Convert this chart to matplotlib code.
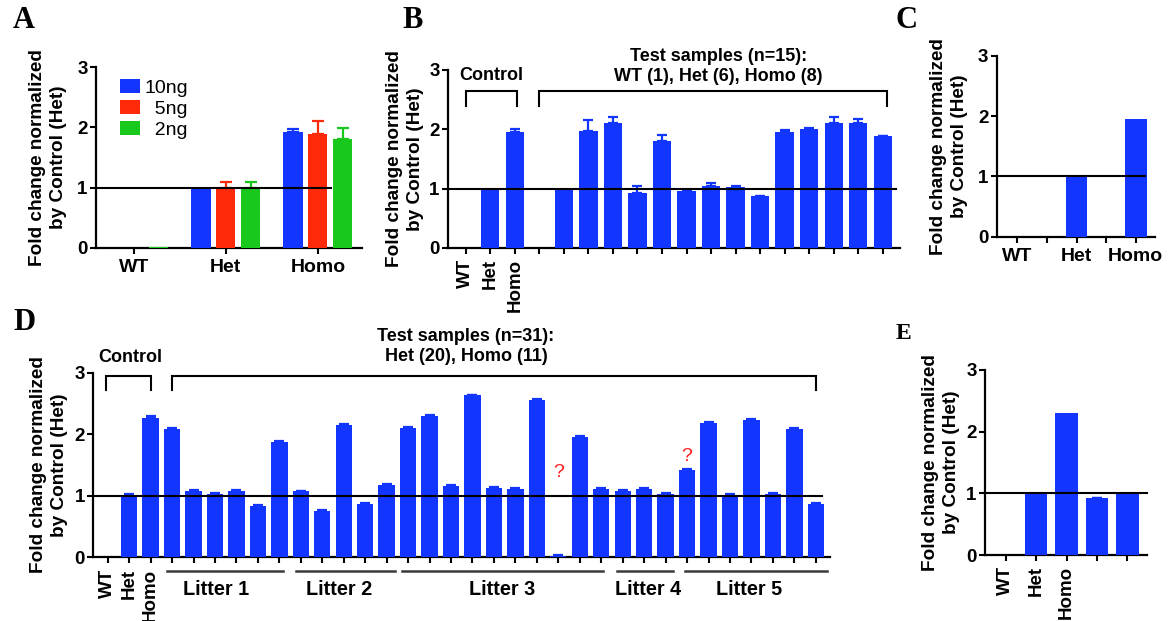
import matplotlib
matplotlib.use('Agg')
import matplotlib.pyplot as plt
import numpy as np

plt.rcParams['font.family'] = ['Liberation Sans', 'DejaVu Sans']
plt.rcParams['font.weight'] = 'bold'

# ---------------- data ----------------
a_groups = ['WT', 'Het', 'Homo']
a_doses = ['10ng', '  5ng', '  2ng']
a_10ng = [0.0, 1.00, 1.92]
a_10ng_err = [0.0, 0.0, 0.05]
a_5ng = [0.0, 1.00, 1.89]
a_5ng_err = [0.0, 0.10, 0.21]
a_2ng = [0.02, 1.00, 1.80]
a_2ng_err = [0.0, 0.10, 0.19]

b_controls = ['WT', 'Het', 'Homo']
b_control_vals = [0.0, 1.00, 1.95]
b_control_err = [0.0, 0.0, 0.05]
b_test_vals = [0.0, 1.00, 1.97, 2.10, 0.93, 1.81, 0.96, 1.04, 1.02, 0.87,
               1.96, 2.00, 2.11, 2.10, 1.88]
b_test_err = [0.0, 0.0, 0.18, 0.10, 0.12, 0.09, 0.01, 0.05, 0.02, 0.01,
              0.03, 0.02, 0.09, 0.08, 0.01]
b_title = 'Test samples (n=15):\nWT (1), Het (6), Homo (8)'

c_groups = ['WT', 'Het', 'Homo']
c_vals = [0.0, 1.00, 1.96]

d_controls = ['WT', 'Het', 'Homo']
d_control_vals = [0.0, 1.01, 2.27]
d_control_err = [0.0, 0.02, 0.02]
d_test_vals = [2.08, 1.08, 1.03, 1.08, 0.83, 1.88,
               1.07, 0.76, 2.15, 0.87, 1.17,
               2.10, 2.30, 1.16, 2.63, 1.13, 1.11, 2.56, 0.02, 1.95, 1.11,
               1.08, 1.11, 1.03,
               1.42, 2.19, 1.02, 2.23, 1.03, 2.08, 0.87]
d_test_err = [0.015] * 31
d_litters = ['Litter 1', 'Litter 2', 'Litter 3', 'Litter 4', 'Litter 5']
d_litter_sizes = [6, 5, 10, 3, 7]
d_uncertain = [18, 24]   # indices of test samples marked with "?"
d_title = 'Test samples (n=31):\nHet (20), Homo (11)'

e_labels = ['WT', 'Het', 'Homo', '', '']
e_vals = [0.0, 1.00, 2.31, 0.92, 1.00]
e_err = [0.0, 0.0, 0.0, 0.01, 0.0]

ylab = 'Fold change normalized\nby Control (Het)'

# ---------------- figure ----------------
W, H = 1171, 621
fig = plt.figure(figsize=(W / 100, H / 100), dpi=100)

BLUE = '#1236FF'
RED = '#FF2A0A'
GREEN = '#18C81C'


def add_ax(left, right, top, bottom):
    return fig.add_axes([left / W, 1 - bottom / H, (right - left) / W, (bottom - top) / H])


def style(ax, xlim, left_px, right_px, lab_right_px, line_end, xsize=13.5):
    ax.set_xlim(*xlim)
    ax.set_ylim(0, 3)
    ax.set_yticks([0, 1, 2, 3])
    for s in ['top', 'right']:
        ax.spines[s].set_visible(False)
    for s in ['left', 'bottom']:
        ax.spines[s].set_linewidth(1.6)
    ax.tick_params(axis='y', length=4, width=1.5, labelsize=13.5, pad=2)
    ax.tick_params(axis='x', length=4, width=1.5, labelsize=xsize, pad=4)
    ax.set_ylabel(ylab, fontsize=13.7, fontweight='bold', linespacing=1.33)
    ax.yaxis.set_label_coords((lab_right_px - left_px) / (right_px - left_px), 0.5)
    ax.plot([xlim[0], line_end], [1, 1], color='black', lw=1.5, zorder=5, clip_on=False)


def bars(ax, x, vals, errs, width, color, capsize=3.5):
    x = np.asarray(x, float)
    vals = np.asarray(vals, float)
    b = ax.bar(x, vals, width, color=color, zorder=3)
    if errs is not None:
        errs = np.asarray(errs, float)
        m = errs > 0
        if m.any():
            ax.errorbar(x[m], vals[m], yerr=[np.zeros(m.sum()), errs[m]], fmt='none',
                        ecolor=color, elinewidth=1.6, capthick=1.6, capsize=capsize, zorder=3)
    return b


def letter(x, y, s, size=22):
    fig.text(x / W, 1 - y / H, s, family='Liberation Serif', fontweight='bold',
             fontsize=size, ha='left', va='top')


def bracket(ax, x0, x1, ytop, ybot):
    ax.plot([x0, x0, x1, x1], [ybot, ytop, ytop, ybot], color='black', lw=1.5,
            clip_on=False, solid_joinstyle='miter')


# ---------- Panel A ----------
axA = add_ax(96, 362, 67, 248)
xa = np.arange(len(a_groups))
bw = 0.21
off = 0.27
ha = []
for k, (vals, errs, col) in enumerate([(a_10ng, a_10ng_err, BLUE), (a_5ng, a_5ng_err, RED),
                                        (a_2ng, a_2ng_err, GREEN)]):
    ha.append(bars(axA, xa + (k - 1) * off, vals, errs, bw, col, capsize=4))
style(axA, (-0.41, 2.48), 96, 362, 67, 2.14, xsize=14)
axA.set_xticks(xa)
axA.set_xticklabels(a_groups)
leg = axA.legend(ha, a_doses, loc='upper left', bbox_to_anchor=((120 - 96) / 266, (248 - 79) / 181),
                 frameon=False, prop=dict(size=14, weight='normal'), handlelength=1.05,
                 handleheight=0.75, handletextpad=0.2, labelspacing=0.15, borderpad=0,
                 borderaxespad=0)
letter(13, 6, 'A')

# ---------- Panel B ----------
axB = add_ax(448, 900, 70, 248)
b_vals = b_control_vals + b_test_vals
b_err = b_control_err + b_test_err
xb = np.arange(len(b_vals))
bars(axB, xb, b_vals, b_err, 0.74, BLUE)
style(axB, (-0.73, 17.71), 448, 900, 424, 17.55)
axB.set_xticks(xb)
axB.set_xticklabels(b_controls + [''] * len(b_test_vals), rotation=90)
nC = len(b_controls)
bracket(axB, 0, nC - 0.93, 2.64, 2.39)
bracket(axB, nC - 0.01, len(b_vals) - 0.8, 2.64, 2.39)
axB.text(1.05, 2.90, 'Control', ha='center', va='center', fontsize=13, fontweight='bold')
axB.text(10.3, 3.06, b_title, ha='center', va='center', fontsize=13, fontweight='bold',
         linespacing=1.22)
letter(402, 6, 'B')

# ---------- Panel C ----------
axC = add_ax(996.7, 1155, 56, 236.7)
xc = np.arange(len(c_groups)) * 2
bars(axC, xc, c_vals, None, 0.73, BLUE)
style(axC, (-0.70, 4.65), 996.7, 1155, 968, 4.31, xsize=14)
axC.set_xticks(np.arange(5))
axC.set_xticklabels([c_groups[0], '', c_groups[1], '', c_groups[2]])
letter(896, 6, 'C')

# ---------- Panel D ----------
axD = add_ax(93.3, 830, 372.7, 557.3)
d_vals = d_control_vals + d_test_vals
d_err = d_control_err + d_test_err
xd = np.arange(len(d_vals))
bars(axD, xd, d_vals, d_err, 0.76, BLUE)
style(axD, (-0.67, 33.66), 93.3, 830, 68, 33.27)
axD.set_xticks(xd)
axD.set_xticklabels(d_controls + [''] * len(d_test_vals), rotation=90)
nDc = len(d_controls)
bracket(axD, -0.08, 2.0, 2.95, 2.72)
bracket(axD, nDc - 0.02, len(d_vals) - 1.0, 2.95, 2.72)
axD.text(1.07, 3.24, 'Control', ha='center', va='center', fontsize=13, fontweight='bold',
         clip_on=False)
axD.text(16.7, 3.43, d_title, ha='center', va='center', fontsize=13, fontweight='bold',
         linespacing=1.22, clip_on=False)
# litter lines
starts = np.concatenate([[0], np.cumsum(d_litter_sizes)[:-1]]) + nDc
ends = starts + np.array(d_litter_sizes) - 1
line_pad = [(0.25, 0.18), (0.23, 0.39), (0.30, 0.10), (0.28, 0.36), (0.10, 0.50)]
label_shift = [-0.4, -0.28, -0.04, 0.16, -0.3]
for name, s, e, (pl, pr), sh in zip(d_litters, starts, ends, line_pad, label_shift):
    axD.plot([s - pl, e + pr], [-0.22, -0.22], color='#3a3a3a', lw=1.8, clip_on=False)
    axD.text((s - pl + e + pr) / 2 + sh, -0.52, name, ha='center', va='center',
             fontsize=14.3, fontweight='bold', clip_on=False)
q_y = [1.37, 1.64]
for i, qy in zip(d_uncertain, q_y):
    axD.text(nDc + i, qy, '?', color='#FF2020', ha='center', va='center', fontsize=14,
             fontweight='normal')
letter(13, 308, 'D')

# ---------- Panel E ----------
axE = add_ax(985, 1146.7, 370, 555)
xe = np.arange(len(e_vals))
bars(axE, xe, e_vals, e_err, 0.74, BLUE)
style(axE, (-0.69, 4.64), 985, 1146.7, 960, 4.64)
axE.set_xticks(xe)
axE.set_xticklabels(e_labels, rotation=90)
letter(896, 323, 'E', size=17)

fig.savefig('out.png', dpi=100)
